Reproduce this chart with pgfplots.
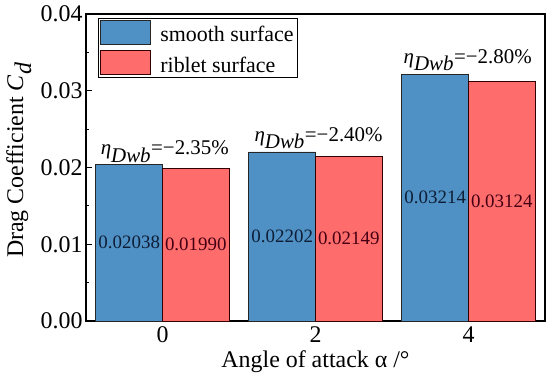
\documentclass[border=0pt]{standalone}
\usepackage{fontspec}
\setmainfont{Liberation Serif}
\usepackage{pgfplots}
\pgfplotsset{compat=1.18}
\definecolor{smoothc}{RGB}{79,145,196}
\definecolor{ribletc}{RGB}{255,108,108}
\definecolor{smoothtxt}{RGB}{15,30,55}
\definecolor{riblettxt}{RGB}{70,0,20}
\begin{document}
\begin{tikzpicture}
\begin{axis}[
  scale only axis,
  width=459bp, height=307bp,
  xmin=-1, xmax=5,
  ymin=0, ymax=0.04,
  ybar=0pt, bar width=0.87,
  xtick={0,2,4},
  ytick={0,0.01,0.02,0.03,0.04},
  minor y tick num=1,
  ytick pos=left,
  xtick pos=bottom,
  tick align=inside,
  major tick length=6bp, minor tick length=3bp,
  x tick style={draw=none},
  axis line style={line width=1.1bp},
  every tick/.style={black, line width=0.9bp},
  /pgf/number format/assume math mode=true,
  yticklabel style={/pgf/number format/.cd, fixed, fixed zerofill, precision=2},
  scaled y ticks=false,
  ticklabel style={font=\fontsize{24}{28}\selectfont},
  xticklabel style={yshift=-2bp},
  label style={font=\fontsize{24}{28}\selectfont},
  xlabel={Angle of attack α /°},
  ylabel={Drag Coefficient \textit{C}$_{\textit{d}}$},
  xlabel style={at={(axis description cs:0.5,-0.15)}, anchor=base},
  ylabel style={at={(axis description cs:-0.137,0.524)}, anchor=base, rotate=0},
  legend style={at={(0.026,0.987)}, anchor=north west, draw=black, line width=1.1bp,
    font=\fontsize{22}{26}\selectfont, inner xsep=2bp, inner ysep=1bp,
    row sep=5bp, cells={anchor=west},
    /tikz/every odd column/.append style={column sep=7bp}},
  legend image code/.code={\draw[#1, line width=0.9bp] (0bp,-9bp) rectangle (50bp,15bp);},
  point meta=explicit symbolic,
  nodes near coords={\pgfplotspointmeta},
  visualization depends on={rawy \as \rawy},
  every node near coord/.append style={anchor=center, font=\fontsize{19}{22}\selectfont, yshift={-\rawy*3837.5bp}},
]
\addplot[fill=smoothc, draw=black!85, line width=0.9bp,
  every node near coord/.append style={text=smoothtxt}]
  coordinates {(0,0.02038) [0.02038] (2,0.02202) [0.02202] (4,0.03214) [0.03214]};
\addplot[fill=ribletc, draw=black!80!red, line width=0.9bp,
  every node near coord/.append style={text=riblettxt}]
  coordinates {(0,0.01990) [0.01990] (2,0.02149) [0.02149] (4,0.03124) [0.03124]};
\legend{smooth surface, riblet surface}
\node[anchor=base, font=\fontsize{21}{24}\selectfont] at (axis cs:0.03,0.02163) {\textit{η}$_{\textit{Dwb}}$=−2.35\%};
\node[anchor=base, font=\fontsize{21}{24}\selectfont] at (axis cs:2.04,0.02345) {\textit{η}$_{\textit{Dwb}}$=−2.40\%};
\node[anchor=base, font=\fontsize{21}{24}\selectfont] at (axis cs:3.99,0.0336) {\textit{η}$_{\textit{Dwb}}$=−2.80\%};
\end{axis}
\pgfresetboundingbox
\path (current axis.south west) ++(-86bp,-60bp) rectangle ([shift={(5bp,14bp)}]current axis.north east);
\end{tikzpicture}
\end{document}
